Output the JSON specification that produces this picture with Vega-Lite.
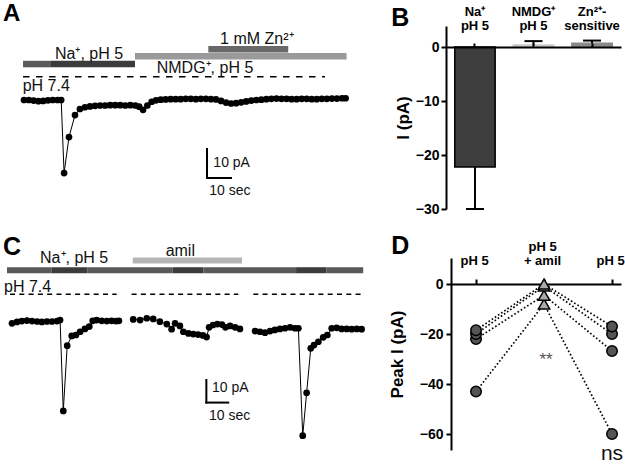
{
  "$schema": "https://vega.github.io/schema/vega-lite/v6.json",
  "padding": {"top": 2, "left": 0, "right": 0, "bottom": 0},
  "background": "white",
  "config": {
    "view": {"stroke": null},
    "font": "Liberation Sans",
    "text": {"font": "Liberation Sans"},
    "axis": {"labelFont": "Liberation Sans", "titleFont": "Liberation Sans", "labelColor": "#000", "titleColor": "#000", "domainColor": "#000", "tickColor": "#000", "grid": false, "labelFlush": false, "labelOverlap": false}
  },
  "datasets": {
    "a_trace": [
      {"t":0,"v":0},{"t":2,"v":0},{"t":4,"v":-0.2},{"t":6,"v":-0.4},{"t":8,"v":-0.3},{"t":10,"v":-0.1},{"t":12,"v":0},{"t":14,"v":0},{"t":15.5,"v":0},
      {"t":16.7,"v":-25.2},{"t":18.75,"v":-12.8},{"t":21.25,"v":-5.2},{"t":23.3,"v":-3.1},{"t":25.4,"v":-2.5},{"t":27.5,"v":-2.2},{"t":29.6,"v":-2.0},
      {"t":31.7,"v":-1.9},{"t":33.8,"v":-1.9},{"t":35.9,"v":-1.8},{"t":38.0,"v":-1.8},{"t":40.1,"v":-1.8},{"t":42.2,"v":-1.9},{"t":44.3,"v":-1.8},
      {"t":46.4,"v":-1.9},{"t":48.0,"v":-2.3},{"t":49.6,"v":-3.4},{"t":51.4,"v":-1.9},{"t":53.2,"v":-0.6},{"t":55.0,"v":-0.1},{"t":57.0,"v":0.1},
      {"t":59.0,"v":0.2},{"t":61.1,"v":0.3},{"t":63.2,"v":0.3},{"t":65.3,"v":0.3},{"t":67.4,"v":0.4},{"t":69.5,"v":0.4},{"t":71.6,"v":0.3},
      {"t":73.7,"v":0.4},{"t":75.8,"v":0.4},{"t":77.9,"v":0.3},{"t":80.0,"v":0.2},{"t":82.1,"v":-0.3},{"t":84.2,"v":-0.9},{"t":86.3,"v":-1.2},
      {"t":88.4,"v":-1.1},{"t":90.5,"v":-0.8},{"t":92.6,"v":-0.5},{"t":94.7,"v":-0.2},{"t":96.8,"v":0.0},{"t":98.9,"v":0.1},{"t":101.0,"v":0.3},
      {"t":103.1,"v":0.4},{"t":105.2,"v":0.5},{"t":107.3,"v":0.4},{"t":109.4,"v":0.4},{"t":111.5,"v":0.3},{"t":113.6,"v":0.3},{"t":115.7,"v":0.4},
      {"t":117.8,"v":0.4},{"t":119.9,"v":0.3},{"t":122.0,"v":0.3},{"t":124.1,"v":0.4},{"t":126.2,"v":0.4},{"t":128.3,"v":0.5},{"t":130.4,"v":0.5},
      {"t":132.5,"v":0.6},{"t":134.0,"v":0.6}
    ],
    "a_bars": [
      {"t":-0.4,"t2":11.25,"v":12.4,"kind":"pH 7.4"},
      {"t":11.25,"t2":46.25,"v":12.4,"kind":"pH 5"},
      {"t":46.25,"t2":134.4,"v":15.1,"kind":"NMDG"},
      {"t":76.8,"t2":110.1,"v":17.5,"kind":"Zn"}
    ],
    "a_dash": [{"t":-0.4,"t2":125.4,"v":8.0}],
    "a_label": [
      {"t":12.9,"v":14.1,"label":"Na⁺, pH 5"},
      {"t":55.3,"v":9.3,"label":"NMDG⁺, pH 5"},
      {"t":81.7,"v":19.3,"label":"1 mM Zn²⁺"},
      {"t":-0.54,"v":3.2,"label":"pH 7.4"}
    ],
    "a_scale_label": [
      {"t":78.9,"v":-23.2,"label":"10 pA"},
      {"t":77.2,"v":-32.8,"label":"10 sec"}
    ],
    "a_scale": [
      {"t":76.25,"t2":76.25,"v":-16.9,"v2":-26.9},
      {"t":76.25,"t2":86.25,"v":-26.9,"v2":-26.9}
    ],
    "c_trace": [
      {"seg":1,"t":0,"v":-0.8},{"seg":1,"t":2.2,"v":-0.2},{"seg":1,"t":4.3,"v":0.2},{"seg":1,"t":6.5,"v":0.4},{"seg":1,"t":8.7,"v":0.2},
      {"seg":1,"t":10.9,"v":0},{"seg":1,"t":13.0,"v":-0.2},{"seg":1,"t":15.2,"v":0},{"seg":1,"t":17.4,"v":0},{"seg":1,"t":19.6,"v":0.2},
      {"seg":1,"t":20.9,"v":0.6},{"seg":1,"t":22.3,"v":-38.4},{"seg":1,"t":24.0,"v":-10.4},{"seg":1,"t":25.96,"v":-6.2},{"seg":1,"t":27.8,"v":-5.8},
      {"seg":1,"t":29.6,"v":-4.4},{"seg":1,"t":31.7,"v":-3.2},{"seg":1,"t":33.6,"v":-2.2},{"seg":1,"t":35.1,"v":0.3},{"seg":1,"t":36.8,"v":0.6},
      {"seg":1,"t":39.0,"v":0.3},{"seg":1,"t":41.2,"v":0.2},{"seg":1,"t":43.3,"v":0.3},{"seg":1,"t":45.2,"v":0.2},{"seg":1,"t":46.5,"v":0.3},
      {"seg":2,"t":52.7,"v":0.9},{"seg":2,"t":55.7,"v":0.6},{"seg":2,"t":58.6,"v":1.4},{"seg":2,"t":61.4,"v":1.1},{"seg":2,"t":64.3,"v":-0.1},
      {"seg":2,"t":67.3,"v":-1.1},{"seg":2,"t":69.4,"v":-3.3},{"seg":2,"t":70.9,"v":-0.8},{"seg":2,"t":73.0,"v":-1.9},{"seg":2,"t":74.5,"v":-4.4},
      {"seg":2,"t":76.7,"v":-5.1},{"seg":2,"t":78.8,"v":-5.4},{"seg":2,"t":80.9,"v":-5.6},{"seg":2,"t":83.0,"v":-6.0},{"seg":2,"t":84.6,"v":-6.7},
      {"seg":2,"t":85.7,"v":-2.5},{"seg":2,"t":87.4,"v":-1.5},{"seg":2,"t":89.3,"v":-1.1},{"seg":2,"t":91.3,"v":-1.3},{"seg":2,"t":92.8,"v":-2.5},
      {"seg":2,"t":94.8,"v":-1.9},{"seg":2,"t":97.0,"v":-2.5},{"seg":2,"t":99.1,"v":-3.2},
      {"seg":3,"t":105.7,"v":-4.1},{"seg":3,"t":107.8,"v":-4.4},{"seg":3,"t":110.0,"v":-4.8},{"seg":3,"t":112.2,"v":-4.1},{"seg":3,"t":114.3,"v":-3.6},
      {"seg":3,"t":116.5,"v":-3.2},{"seg":3,"t":118.7,"v":-2.9},{"seg":3,"t":120.9,"v":-2.5},{"seg":3,"t":123.0,"v":-2.9},{"seg":3,"t":124.5,"v":-2.9},
      {"seg":3,"t":126.4,"v":-49.0},{"seg":3,"t":128.1,"v":-30.6},{"seg":3,"t":129.9,"v":-11.5},{"seg":3,"t":131.3,"v":-10.1},{"seg":3,"t":133.2,"v":-8.7},
      {"seg":3,"t":135.3,"v":-6.8},{"seg":3,"t":137.1,"v":-5.8},{"seg":3,"t":139.0,"v":-2.9},{"seg":3,"t":141.2,"v":-2.7},{"seg":3,"t":143.3,"v":-3.2},
      {"seg":3,"t":145.5,"v":-3.2},{"seg":3,"t":147.7,"v":-3.3},{"seg":3,"t":149.9,"v":-3.2},{"seg":3,"t":152.0,"v":-3.3}
    ],
    "c_bars": [
      {"t":-2.17,"t2":17.3,"v":22.0,"kind":"pH 7.4"},
      {"t":17.3,"t2":32.7,"v":22.0,"kind":"pH 5"},
      {"t":32.7,"t2":69.9,"v":22.0,"kind":"pH 7.4"},
      {"t":69.9,"t2":83.2,"v":22.0,"kind":"pH 5"},
      {"t":83.2,"t2":123.5,"v":22.0,"kind":"pH 7.4"},
      {"t":123.5,"t2":136.8,"v":22.0,"kind":"pH 5"},
      {"t":136.8,"t2":152.7,"v":22.0,"kind":"pH 7.4"},
      {"t":52.5,"t2":100.0,"v":26.2,"kind":"amil"}
    ],
    "c_dash": [
      {"t":-0.87,"t2":45.5,"v":11.7},
      {"t":52.0,"t2":98.4,"v":11.7},
      {"t":104.9,"t2":152.0,"v":11.7}
    ],
    "c_label": [
      {"t":12.2,"v":25.0,"label":"Na⁺, pH 5"},
      {"t":66.8,"v":28.1,"label":"amil"},
      {"t":-3.48,"v":12.8,"label":"pH 7.4"}
    ],
    "c_scale_label": [
      {"t":86.96,"v":-30.1,"label":"10 pA"},
      {"t":85.65,"v":-42.3,"label":"10 sec"}
    ],
    "c_scale": [
      {"t":84.5,"t2":84.5,"v":-25.1,"v2":-34.8},
      {"t":84.5,"t2":94.0,"v":-34.8,"v2":-34.8}
    ],
    "b_bars": [
      {"cond":"Na⁺|pH 5","v":-22.2,"e":-30},
      {"cond":"NMDG⁺|pH 5","v":0.4,"e":1.1},
      {"cond":"Zn²⁺-|sensitive","v":0.7,"e":1.2}
    ],
    "d_pts": [
      {"cell":1,"p":1,"v":-43},{"cell":1,"p":2,"v":-8},{"cell":1,"p":3,"v":-60},
      {"cell":2,"p":1,"v":-22},{"cell":2,"p":2,"v":-4.5},{"cell":2,"p":3,"v":-26.8},
      {"cell":3,"p":1,"v":-20},{"cell":3,"p":2,"v":-0.8},{"cell":3,"p":3,"v":-20},
      {"cell":4,"p":1,"v":-18.5},{"cell":4,"p":2,"v":0},{"cell":4,"p":3,"v":-17}
    ],
    "d_star": [{"p":2.03,"v":-32.4,"label":"**"}],
    "d_ns": [{"p":3.0,"v":-70.4,"label":"ns"}]
  },
  "resolve": {"scale": {"x": "independent", "y": "independent", "color": "independent"}},
  "spacing": 18,
  "vconcat": [
    {
      "spacing": 36,
      "resolve": {"scale": {"x": "independent", "y": "independent", "color": "independent"}},
      "hconcat": [
        {
          "width": 355,
          "height": 184,
          "title": {"text": "A", "anchor": "start", "frame": "bounds", "offset": 0, "dx": 3, "fontSize": 24, "fontWeight": "bold", "font": "Liberation Sans", "color": "#000"},
          "encoding": {
            "x": {"field": "t", "type": "quantitative", "scale": {"domain": [-10, 137.92], "nice": false, "zero": false}, "axis": null},
            "y": {"field": "v", "type": "quantitative", "scale": {"domain": [-37.93, 25.52], "nice": false, "zero": false}, "axis": null}
          },
          "layer": [
            {"data": {"name": "a_bars"}, "mark": {"type": "rule", "strokeWidth": 6.5}, "encoding": {"x2": {"field": "t2"}, "color": {"field": "kind", "type": "nominal", "scale": {"domain": ["pH 7.4", "pH 5", "NMDG", "Zn", "amil"], "range": ["#5a5a5a", "#3c3c3c", "#9a9a9a", "#686868", "#b5b5b5"]}, "legend": null}}},
            {"data": {"name": "a_dash"}, "mark": {"type": "rule", "strokeWidth": 1.5, "strokeDash": [6.5, 6.5], "color": "#000"}, "encoding": {"x2": {"field": "t2"}}},
            {"data": {"name": "a_trace"}, "mark": {"type": "line", "color": "#000", "strokeWidth": 1}, "encoding": {}},
            {"data": {"name": "a_trace"}, "mark": {"type": "point", "filled": true, "color": "#000", "opacity": 1, "size": 45}},
            {"data": {"name": "a_label"}, "mark": {"type": "text", "fontSize": 16, "align": "left", "baseline": "alphabetic", "color": "#111"}, "encoding": {"text": {"field": "label"}}},
            {"data": {"name": "a_scale_label"}, "mark": {"type": "text", "fontSize": 14, "align": "left", "baseline": "alphabetic", "color": "#111"}, "encoding": {"text": {"field": "label"}}},
            {"data": {"name": "a_scale"}, "mark": {"type": "rule", "strokeWidth": 2, "color": "#000", "strokeCap": "square"}, "encoding": {"x2": {"field": "t2"}, "y2": {"field": "v2"}}}
          ]
        },
        {
          "width": 175,
          "height": 183,
          "title": {"text": "B", "anchor": "start", "frame": "bounds", "offset": -26, "dx": -3, "fontSize": 25, "fontWeight": "bold", "font": "Liberation Sans", "color": "#000"},
          "data": {"name": "b_bars"},
          "encoding": {
            "x": {"field": "cond", "type": "nominal", "sort": null, "scale": {"paddingInner": 0.31, "paddingOuter": 0.15},
              "axis": {"orient": "top", "offset": -21, "title": null, "labelAngle": 0, "labelExpr": "split(datum.value, '|')", "labelFontWeight": "bold", "labelFontSize": 13, "labelLineHeight": 14, "labelPadding": 25, "tickSize": 4, "tickWidth": 2, "domainWidth": 2, "zindex": 1}},
            "y": {"field": "v", "type": "quantitative", "scale": {"domain": [-30, 3.9], "nice": false, "zero": false},
              "axis": {"values": [0, -10, -20, -30], "title": "I (pA)", "titleFontSize": 17, "titleFontWeight": "bold", "labelFontSize": 14, "labelFontWeight": "bold", "tickSize": 5, "tickWidth": 2, "domainWidth": 2, "labelPadding": 2, "titlePadding": 3}}
          },
          "layer": [
            {"mark": {"type": "bar", "strokeWidth": 1.5}, "encoding": {
              "y2": {"datum": 0},
              "fill": {"field": "cond", "type": "nominal", "scale": {"domain": ["Na⁺|pH 5", "NMDG⁺|pH 5", "Zn²⁺-|sensitive"], "range": ["#3e3e3e", "#cacaca", "#8a8a8a"]}, "legend": null},
              "stroke": {"field": "cond", "type": "nominal", "scale": {"domain": ["Na⁺|pH 5", "NMDG⁺|pH 5", "Zn²⁺-|sensitive"], "range": ["#000000", "#cacaca", "#8a8a8a"]}, "legend": null}}},
            {"mark": {"type": "rule", "strokeWidth": 2, "color": "#000"}, "encoding": {"y2": {"field": "e"}}},
            {"mark": {"type": "tick", "thickness": 2, "size": 18, "color": "#000", "opacity": 1}, "encoding": {"y": {"field": "e", "type": "quantitative", "title": "I (pA)"}}}
          ]
        }
      ]
    },
    {
      "spacing": 18,
      "resolve": {"scale": {"x": "independent", "y": "independent", "color": "independent"}},
      "hconcat": [
        {
          "width": 370,
          "height": 192,
          "title": {"text": "C", "anchor": "start", "frame": "bounds", "offset": -17, "dx": 3, "fontSize": 25, "fontWeight": "bold", "font": "Liberation Sans", "color": "#000"},
          "encoding": {
            "x": {"field": "t", "type": "quantitative", "scale": {"domain": [-5.217, 155.65], "nice": false, "zero": false}, "axis": null},
            "y": {"field": "v", "type": "quantitative", "scale": {"domain": [-55.15, 27.25], "nice": false, "zero": false}, "axis": null}
          },
          "layer": [
            {"data": {"name": "c_bars"}, "mark": {"type": "rule", "strokeWidth": 6}, "encoding": {"x2": {"field": "t2"}, "color": {"field": "kind", "type": "nominal", "scale": {"domain": ["pH 7.4", "pH 5", "NMDG", "Zn", "amil"], "range": ["#5a5a5a", "#3c3c3c", "#9a9a9a", "#686868", "#b5b5b5"]}, "legend": null}}},
            {"data": {"name": "c_dash"}, "mark": {"type": "rule", "strokeWidth": 1.5, "strokeDash": [5, 4.3], "color": "#000"}, "encoding": {"x2": {"field": "t2"}}},
            {"data": {"name": "c_trace"}, "mark": {"type": "line", "color": "#000", "strokeWidth": 1}, "encoding": {"detail": {"field": "seg", "type": "nominal"}}},
            {"data": {"name": "c_trace"}, "mark": {"type": "point", "filled": true, "color": "#000", "opacity": 1, "size": 45}},
            {"data": {"name": "c_label"}, "mark": {"type": "text", "fontSize": 16, "align": "left", "baseline": "alphabetic", "color": "#111"}, "encoding": {"text": {"field": "label"}}},
            {"data": {"name": "c_scale_label"}, "mark": {"type": "text", "fontSize": 14, "align": "left", "baseline": "alphabetic", "color": "#111"}, "encoding": {"text": {"field": "label"}}},
            {"data": {"name": "c_scale"}, "mark": {"type": "rule", "strokeWidth": 2, "color": "#000", "strokeCap": "square"}, "encoding": {"x2": {"field": "t2"}, "y2": {"field": "v2"}}}
          ]
        },
        {
          "width": 170,
          "height": 192,
          "title": {"text": "D", "anchor": "start", "frame": "bounds", "offset": -19, "dx": 3, "fontSize": 25, "fontWeight": "bold", "font": "Liberation Sans", "color": "#000"},
          "data": {"name": "d_pts"},
          "encoding": {
            "x": {"field": "p", "type": "quantitative", "scale": {"domain": [0.632, 3.132], "nice": false, "zero": false},
              "axis": {"orient": "top", "offset": -26, "values": [1, 2, 3], "title": null, "labelExpr": "datum.value == 2 ? ['pH 5', '+ amil'] : ['', 'pH 5']", "labelAngle": 0, "labelOffset": -2, "labelFontWeight": "bold", "labelFontSize": 13, "labelLineHeight": 14, "labelPadding": 26, "tickSize": 5, "tickWidth": 2, "domainWidth": 2, "zindex": 0}},
            "y": {"field": "v", "type": "quantitative", "scale": {"domain": [-66.4, 10.4], "nice": false, "zero": false},
              "axis": {"values": [0, -20, -40, -60], "title": "Peak I (pA)", "titleFontSize": 17, "titleFontWeight": "bold", "labelFontSize": 14, "labelFontWeight": "bold", "tickSize": 5, "tickWidth": 2, "domainWidth": 2, "labelPadding": 3, "titlePadding": 13}}
          },
          "layer": [
            {"mark": {"type": "line", "strokeDash": [1.6, 2.2], "strokeWidth": 1.7, "color": "#000"}, "encoding": {"detail": {"field": "cell", "type": "nominal"}}},
            {"transform": [{"filter": "datum.p != 2"}], "mark": {"type": "point", "shape": "circle", "filled": true, "size": 110, "fill": "#555555", "stroke": "#000", "strokeWidth": 1.5, "opacity": 1}},
            {"transform": [{"filter": "datum.p == 2"}], "mark": {"type": "point", "shape": "triangle-up", "filled": true, "size": 130, "fill": "#aaaaaa", "stroke": "#000", "strokeWidth": 1.5, "opacity": 1}},
            {"data": {"name": "d_star"}, "mark": {"type": "text", "fontSize": 17, "align": "center", "baseline": "alphabetic", "color": "#555"}, "encoding": {"text": {"field": "label"}}},
            {"data": {"name": "d_ns"}, "mark": {"type": "text", "fontSize": 21, "align": "center", "baseline": "alphabetic", "color": "#111"}, "encoding": {"text": {"field": "label"}}}
          ]
        }
      ]
    }
  ]
}
